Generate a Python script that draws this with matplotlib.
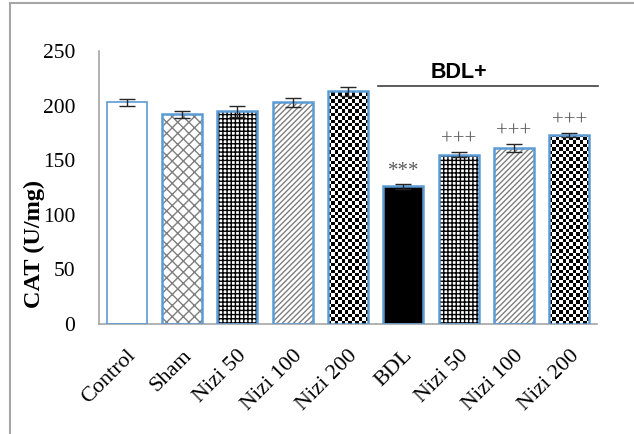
import numpy as np
import matplotlib
matplotlib.use("Agg")
import matplotlib.pyplot as plt
from matplotlib.patches import Rectangle

# Catalase activity per group (mean and error)
groups = ["Control", "Sham", "Nizi 50", "Nizi 100", "Nizi 200",
          "BDL", "Nizi 50", "Nizi 100", "Nizi 200"]
cat_means = [203, 192, 195, 203, 213, 126, 155, 161, 173]
cat_err = [3, 3, 5, 4, 4, 2, 2.5, 3.5, 2]
sig_marks = ["", "", "", "", "", "***", "+++", "+++", "+++"]
y_ticks = [0, 50, 100, 150, 200, 250]
bracket_label = "BDL+"
bracket_level = 218

# fill styles: (face, hatch, hatch colour, checkerboard?)
styles = [
    ("white", None, None, False),
    ("white", "xxx", "#7f7f7f", False),
    ("white", "++++", "black", False),
    ("white", "//////", "#7f7f7f", False),
    ("white", None, None, True),
    ("black", None, None, False),
    ("white", "++++", "black", False),
    ("white", "//////", "#7f7f7f", False),
    ("white", None, None, True),
]

plt.rcParams["hatch.linewidth"] = 1.0
serif = "Liberation Serif"

fig = plt.figure(figsize=(6.34, 4.34), dpi=100)
ax = fig.add_axes([99 / 634, 1 - 324 / 434, (597 - 99) / 634, (324 - 51) / 434])
ax.set_xlim(-0.5, len(groups) - 0.5)
ax.set_ylim(0, 250)

x = np.arange(len(groups))
width = 0.72
edge = "#5b9bd5"

for i, (face, hatch, hcol, checker) in enumerate(styles):
    if hatch:
        ax.bar(x[i], cat_means[i], width, color=face, edgecolor=hcol,
               hatch=hatch, linewidth=0, zorder=2)
    else:
        ax.bar(x[i], cat_means[i], width, color=face, linewidth=0, zorder=2)
    outline = ax.bar(x[i], cat_means[i], width, fill=False, edgecolor=edge,
                     linewidth=1.2 if i == 0 else 1.8, zorder=4)[0]
    if checker:
        # pixel-sized checkerboard clipped to the bar
        cell_px = 3.4
        p0 = ax.transData.transform((x[i] - width / 2, 0))
        p1 = ax.transData.transform((x[i] + width / 2, cat_means[i]))
        nx = int(np.ceil(abs(p1[0] - p0[0]) / cell_px))
        ny = int(np.ceil(abs(p1[1] - p0[1]) / cell_px))
        board = (np.add.outer(np.arange(ny), np.arange(nx)) % 2).astype(float)
        x1 = x[i] - width / 2 + nx * cell_px / (abs(p1[0] - p0[0]) / width)
        y1 = ny * cell_px / (abs(p1[1] - p0[1]) / cat_means[i])
        im = ax.imshow(board, cmap="gray", vmin=0, vmax=1, origin="lower",
                       extent=(x[i] - width / 2, x1, 0, y1), aspect="auto",
                       interpolation="nearest", zorder=3)
        im.set_clip_path(outline)

ax.set_xlim(-0.5, len(groups) - 0.5)
ax.set_ylim(0, 250)

ax.errorbar(x, cat_means, yerr=cat_err, fmt="none", ecolor="#262626",
            elinewidth=1.0, capsize=5.5, capthick=1.0, zorder=5)

for i, mark in enumerate(sig_marks):
    if mark:
        ax.annotate(mark, (x[i], cat_means[i] + cat_err[i]),
                    xytext=(0, 2), textcoords="offset points",
                    ha="center", va="bottom", fontsize=15, family=serif,
                    color="#595959", zorder=6)

# group bracket over the BDL groups
ax.plot([4.55, 8.52], [bracket_level, bracket_level], color="#404040",
        lw=1.2, clip_on=False, zorder=6)
ax.text(6.0, bracket_level + 3, bracket_label, ha="center", va="bottom",
        fontsize=15.5, fontweight="bold", family="Liberation Sans", color="black")

for side in ("top", "right"):
    ax.spines[side].set_visible(False)
for side in ("left", "bottom"):
    ax.spines[side].set_color("#a6a6a6")
    ax.spines[side].set_linewidth(1.2)

ax.set_yticks(y_ticks)
ax.set_yticklabels([str(v) for v in y_ticks], fontsize=15.5, family=serif)
ax.tick_params(axis="y", length=0, pad=17)
ax.set_xticks(x)
ax.set_xticklabels(groups, rotation=45, ha="right", rotation_mode="anchor",
                   fontsize=16, family=serif)
ax.tick_params(axis="x", length=0, pad=16)

ax.set_ylabel("CAT (U/mg)", fontsize=17.5, fontweight="bold", family=serif)
ax.yaxis.set_label_coords(-54 / 498, 0.293)

# outer frame
fig.patches.append(Rectangle((10 / 634, -0.05), 1.2, 1.05 - 3 / 434,
                             transform=fig.transFigure, fill=False,
                             edgecolor="#a6a6a6", lw=1.5, clip_on=False))

fig.savefig("out.png", dpi=100)
